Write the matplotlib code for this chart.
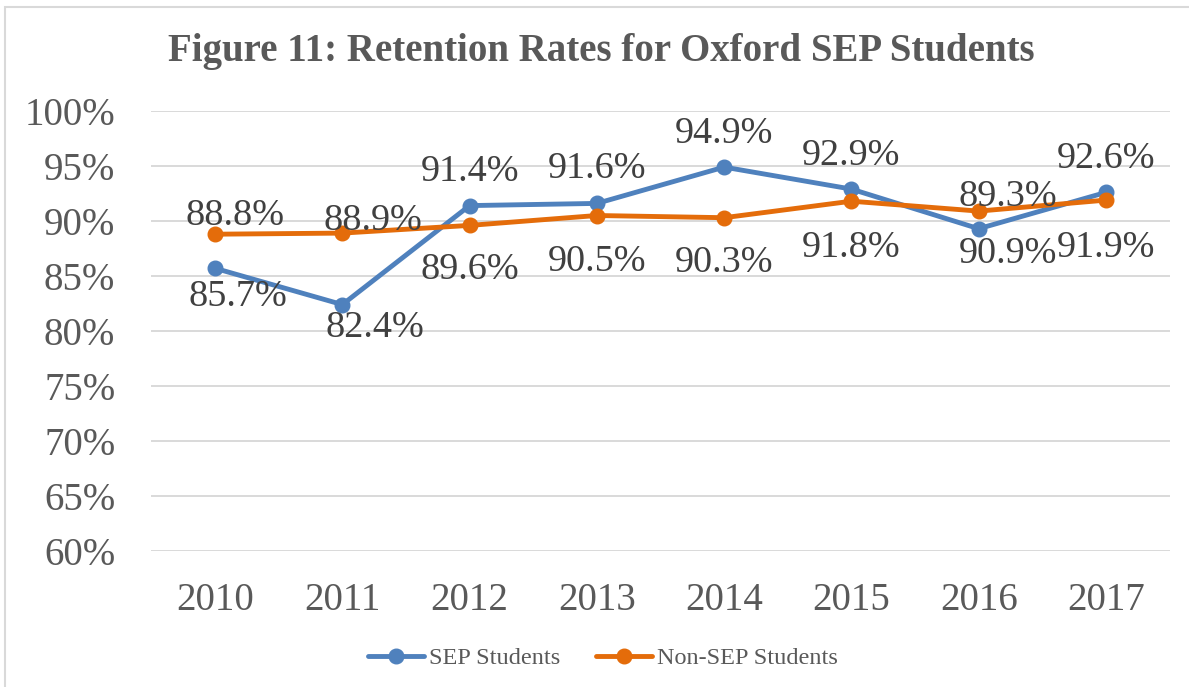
import matplotlib
matplotlib.use("Agg")
import matplotlib.pyplot as plt
from matplotlib.patches import Rectangle
from matplotlib.lines import Line2D

# ---- data ----
years = ["2010", "2011", "2012", "2013", "2014", "2015", "2016", "2017"]
sep_students = [85.7, 82.4, 91.4, 91.6, 94.9, 92.9, 89.3, 92.6]
non_sep_students = [88.8, 88.9, 89.6, 90.5, 90.3, 91.8, 90.9, 91.9]
y_ticks = [60, 65, 70, 75, 80, 85, 90, 95, 100]
title = "Figure 11: Retention Rates for Oxford SEP Students"
series_names = ["SEP Students", "Non-SEP Students"]

# ---- style ----
BLUE = "#4F81BD"
ORANGE = "#E46C0A"
GRID = "#D9D9D9"
TXT = "#595959"
LBL = "#404040"
SERIF = ["Liberation Serif", "DejaVu Serif"]

# label offsets (pixels, dx, dy of digit centre relative to point)
sep_off = [(23, -25.5), (33, -20), (0, 37.5), (0, 38), (0, 37), (0, 37), (29, 35.5), (0, 37)]
non_off = [(20, 22), (31, 15.5), (0, -41), (0, -43), (0, -42), (0, -43), (29, -39), (0, -44)]

W, H = 1189, 687
fig = plt.figure(figsize=(W / 100, H / 100), dpi=100)
fig.patch.set_facecolor("white")
fig.patches.append(Rectangle((5 / W, -0.1), 1.2, 1 - 7 / H + 0.1, transform=fig.transFigure,
                             fill=False, edgecolor=GRID, lw=1.5, zorder=0))

ax = fig.add_axes([151.4 / W, 1 - 551 / H, (1169.6 - 151.4) / W, 440 / H])
x = list(range(len(years)))
ax.set_xlim(-0.5, len(years) - 0.5)
ax.set_ylim(y_ticks[0], y_ticks[-1])
for s in ax.spines.values():
    s.set_visible(False)
ax.set_yticks(y_ticks)
ax.set_yticklabels([f"{t}%" for t in y_ticks], fontfamily=SERIF, fontsize=28, color=TXT)
ax.set_xticks(x)
ax.set_xticklabels(years, fontfamily=SERIF, fontsize=28, color=TXT)
ax.tick_params(axis="y", length=0, pad=26)
ax.tick_params(axis="x", length=0, pad=22.5)
ax.yaxis.grid(True, color=GRID, lw=1.4)
ax.set_axisbelow(True)

lw = 3.5
ms = 10.5
ax.plot(x, sep_students, color=BLUE, lw=lw, marker="o", ms=ms, solid_capstyle="round", zorder=3)
ax.plot(x, non_sep_students, color=ORANGE, lw=lw, marker="o", ms=ms, solid_capstyle="round", zorder=4)

half_digit = 12.5
for vals, offs in ((sep_students, sep_off), (non_sep_students, non_off)):
    for xi, v, (dx, dy) in zip(x, vals, offs):
        ax.annotate(f"{v:.1f}%", (xi, v), xytext=(dx, dy - half_digit), textcoords="offset pixels",
                    ha="center", va="baseline", fontfamily=SERIF, fontsize=27.5, color=LBL, zorder=5)

fig.text(601 / W, 1 - 52 / H, title, ha="center", va="center", fontfamily=SERIF,
         fontweight="bold", fontsize=28, color=TXT)

handles = [Line2D([], [], color=BLUE, lw=lw, marker="o", ms=ms, solid_capstyle="round"),
           Line2D([], [], color=ORANGE, lw=lw, marker="o", ms=ms, solid_capstyle="round")]
leg = fig.legend(handles, series_names, loc="center", bbox_to_anchor=(603 / W, 1 - 658 / H), ncol=2,
                 frameon=False, handlelength=2.3, handletextpad=0.2, columnspacing=1.5,
                 prop={"family": SERIF, "size": 17.5})
for t in leg.get_texts():
    t.set_color(TXT)

fig.savefig("out.png", dpi=100, facecolor="white")
